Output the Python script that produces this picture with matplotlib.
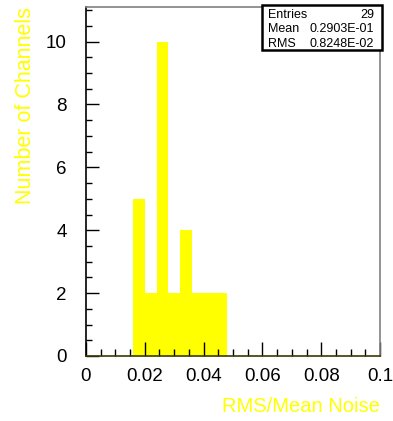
import matplotlib.pyplot as plt
from matplotlib.patches import Rectangle
from matplotlib.ticker import MultipleLocator
import numpy as np

# данные гистограммы
bin_edges = [0.016, 0.020, 0.024, 0.028, 0.032, 0.036, 0.040, 0.044, 0.048]
counts = [5, 2, 10, 2, 4, 2, 2, 2]
stat_names = ["Entries", "Mean", "RMS"]
stat_values = ["29", "0.2903E-01", "0.8248E-02"]

plt.rcParams['font.family'] = ['Liberation Sans', 'DejaVu Sans']

fig = plt.figure(figsize=(3.93, 4.21), dpi=100)
ax = fig.add_axes([0.2188, 0.1544, 0.7482, 0.829])

ax.stairs(counts, bin_edges, fill=True, color='#ffff00', linewidth=0)

ax.set_xlim(0, 0.1)
ax.set_ylim(0, 11.1)

ax.xaxis.set_major_locator(MultipleLocator(0.02))
ax.xaxis.set_minor_locator(MultipleLocator(0.005))
ax.yaxis.set_major_locator(MultipleLocator(2))
ax.yaxis.set_minor_locator(MultipleLocator(0.5))
ax.set_xticks(np.arange(0, 0.101, 0.02), ['0', '0.02', '0.04', '0.06', '0.08', '0.1'])

ax.tick_params(axis='x', which='major', direction='in', length=10, width=1, pad=9, labelsize=13.5)
ax.tick_params(axis='x', which='minor', direction='in', length=5, width=1)
ax.tick_params(axis='y', which='major', direction='in', length=9, width=1, pad=14, labelsize=13.5)
ax.tick_params(axis='y', which='minor', direction='in', length=4.5, width=1)

ax.spines['left'].set_color('black')
ax.spines['bottom'].set_color('#3a3a00')
ax.spines['top'].set_color('#808080')
ax.spines['right'].set_color('#808080')
for s in ax.spines.values():
    s.set_linewidth(1.2)

ax.set_ylabel('Number of Channels', color='#ffff00', fontsize=15.5, loc='top', labelpad=7)
ax.set_xlabel('RMS/Mean Noise', color='#ffff00', fontsize=14.5, loc='right', labelpad=8)

# окно статистики
bx0, by0, bx1, by1 = 262 / 393, 1 - 50 / 421, 382 / 393, 1 - 5 / 421
fig.patches.append(Rectangle((bx0, by0), bx1 - bx0, by1 - by0, transform=fig.transFigure,
                             facecolor='white', edgecolor='black', linewidth=1.8, zorder=5))
rows_y = [15, 29.5, 44]
for name, val, yy in zip(stat_names, stat_values, rows_y):
    fig.text(268 / 393, 1 - yy / 421, name, ha='left', va='center', fontsize=9,
             family=['Liberation Sans Narrow', 'Liberation Sans'], zorder=6)
    fig.text(374 / 393, 1 - yy / 421, val, ha='right', va='center', fontsize=9,
             family=['Liberation Sans Narrow', 'Liberation Sans'], zorder=6)

fig.savefig('out.png', dpi=100)
